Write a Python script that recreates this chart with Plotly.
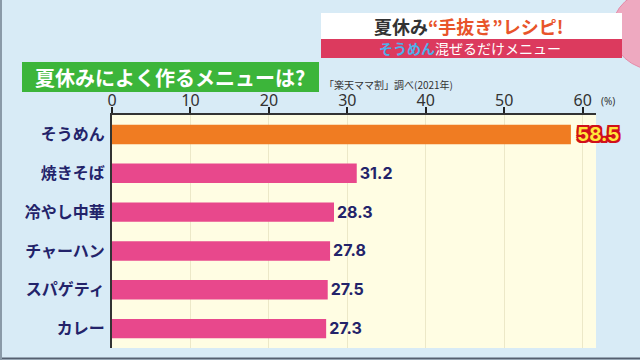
import plotly.graph_objects as go

categories = ["そうめん", "焼きそば", "冷やし中華", "チャーハン", "スパゲティ", "カレー"]
values = [58.5, 31.2, 28.3, 27.8, 27.5, 27.3]
tick_vals = [0, 10, 20, 30, 40, 50, 60]
tick_text = ["0", "10", "20", "30", "40", "50", "60"]

W, H = 640, 360
L, R, T, B = 112, 596, 115, 348

def px(x):
    return (x - L) / (R - L)

def py(y):
    return (B - y) / (B - T)

bar_colors = ["#f07c22"] + ["#e8488c"] * (len(values) - 1)
FONT = "Noto Sans CJK JP"
NUMFONT = "Inter"
NAVY = "#23236a"

fig = go.Figure()
fig.add_trace(go.Bar(
    x=values, y=categories, orientation="h",
    marker=dict(color=bar_colors, line=dict(width=0)),
    text=[""] + [f"{v:.1f}" for v in values[1:]],
    textposition="outside",
    textfont=dict(family=NUMFONT, size=19, color=NAVY, weight="bold"),
    cliponaxis=False,
    hoverinfo="skip",
))

fig.update_layout(
    width=W, height=H,
    margin=dict(l=L, r=W - R, t=T, b=H - B, autoexpand=False),
    paper_bgcolor="#d8ebf6",
    plot_bgcolor="#fffde3",
    bargap=0.5,
    showlegend=False,
    font=dict(family=FONT),
)
fig.update_xaxes(
    range=[0, 61.7], side="top",
    tickvals=tick_vals, ticktext=tick_text,
    tickfont=dict(family="Noto Sans", size=16, color="#333333"),
    ticks="outside", ticklen=6, tickwidth=2, tickcolor="#222222",
    ticklabelstandoff=-5,
    showline=True, linecolor="#333333", linewidth=2,
    showgrid=True, gridcolor="#ece8c8", gridwidth=1,
    zeroline=False, fixedrange=True,
)
fig.update_yaxes(
    autorange="reversed",
    tickfont=dict(family=FONT, size=16, color=NAVY, weight="bold"),
    ticks="", ticklabelstandoff=2,
    showline=True, linecolor="#333333", linewidth=2,
    showgrid=False, fixedrange=True,
)

RED = "#d0101a"
fig.add_annotation(
    x=values[0], y=categories[0], xref="x", yref="y",
    text=f"{values[0]:.1f}", showarrow=False, xanchor="left", xshift=4,
    font=dict(family=NUMFONT, size=19, color="#ffe63a", weight="bold",
              shadow=f"2px 0 0 {RED}, -2px 0 0 {RED}, 0 2px 0 {RED}, 0 -2px 0 {RED}, 2px 2px 0 {RED}, -2px -2px 0 {RED}, 2px -2px 0 {RED}, -2px 2px 0 {RED}"),
)

shapes = []
shapes.append(dict(type="circle", xref="paper", yref="paper",
                   x0=px(612), x1=px(700), y0=py(70), y1=py(-10),
                   fillcolor="#eea9c0", line=dict(color="#e58aa8", width=1), layer="below"))
shapes.append(dict(type="rect", xref="paper", yref="paper",
                   x0=px(321), x1=px(622), y0=py(39), y1=py(13),
                   fillcolor="#ffffff", line=dict(width=0)))
shapes.append(dict(type="rect", xref="paper", yref="paper",
                   x0=px(321), x1=px(622), y0=py(58), y1=py(39),
                   fillcolor="#dc3a5e", line=dict(width=0)))
shapes.append(dict(type="rect", xref="paper", yref="paper",
                   x0=px(22), x1=px(319), y0=py(92), y1=py(62),
                   fillcolor="#3cb53a", line=dict(width=0)))
shapes.append(dict(type="line", xref="paper", yref="paper",
                   x0=px(0), x1=px(640), y0=py(358.5), y1=py(358.5),
                   line=dict(color="#556070", width=2)))
shapes.append(dict(type="line", xref="paper", yref="paper",
                   x0=px(1), x1=px(1), y0=py(0), y1=py(360),
                   line=dict(color="#8a9aa8", width=2)))
fig.update_layout(shapes=shapes)

ann = [
    dict(text="<b><span style='color:#333333'>夏休み</span><span style='color:#e8542a'>“手抜き”レシピ!</span></b>",
         x=px(372), y=py(26), xanchor="left", font=dict(family=FONT, size=18)),
    dict(text="<b><span style='color:#4fb0ea'>そうめん</span></b><span style='color:#ffffff'>混ぜるだけメニュー</span>",
         x=px(377), y=py(48.5), xanchor="left", font=dict(family=FONT, size=14, color="#ffffff")),
    dict(text="<b>夏休みによく作るメニューは?</b>",
         x=px(170), y=py(77), font=dict(family=FONT, size=20, color="#ffffff")),
    dict(text="「楽天ママ割」調べ(2021年)",
         x=px(322), y=py(84), xanchor="left", font=dict(family=FONT, size=10, color="#333333")),
    dict(text="(%)",
         x=px(599), y=py(101), xanchor="left", font=dict(family="Noto Sans", size=10, color="#333333")),
]
for a in ann:
    a.setdefault("xanchor", "center")
    fig.add_annotation(xref="paper", yref="paper", showarrow=False, yanchor="middle", **a)

fig.write_html("out.html", config={"displayModeBar": False},
               post_script="document.body.style.margin='0';document.body.style.overflow='hidden';")
